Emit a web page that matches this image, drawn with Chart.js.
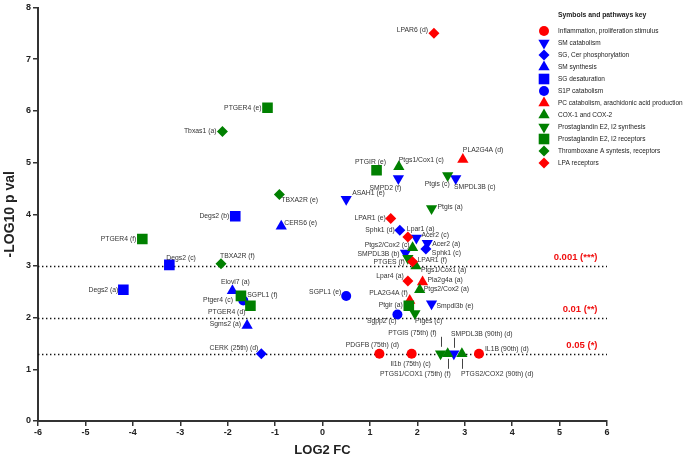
<!DOCTYPE html>
<html>
<head>
<meta charset="utf-8">
<script src="https://cdn.jsdelivr.net/npm/chart.js@4.4.0/dist/chart.umd.min.js"></script>
<style>
  html, body { margin: 0; padding: 0; background: #fff; }
  canvas { display: block; }
</style>
</head>
<body>
<canvas id="volcano" width="685" height="461" style="width:685px;height:461px"></canvas>
<script>
/* ── Data: one block per pathway (gene label, LOG2 FC, -LOG10 p) ───────── */
var inflamNames = ['PDGFB (75th) (d)', 'Il1b (75th) (c)', 'IL1B (90th) (d)'];
var inflamFC    = [1.2, 1.88, 3.3];
var inflamP     = [1.3, 1.3, 1.3];

var smCatNames = ['SMPD2 (f)', 'SMPDL3B (c)', 'ASAH1 (e)', 'Acer2 (c)', 'Acer2 (a)', 'SMPDL3B (b)', 'Smpdl3b (e)', 'SMPDL3B (90th) (d)'];
var smCatFC    = [1.6, 2.81, 0.5, 1.98, 2.21, 1.75, 2.3, 2.77];
var smCatP     = [4.69, 4.69, 4.29, 3.54, 3.44, 3.25, 2.27, 1.3];

var sgPhosNames = ['Sphk1 (d)', 'Sphk1 (c)', 'CERK (25th) (d)'];
var sgPhosFC    = [1.63, 2.18, -1.29];
var sgPhosP     = [3.69, 3.33, 1.3];

var smSynNames = ['CERS6 (e)', 'Elovl7 (a)', 'Sgms2 (a)'];
var smSynFC    = [-0.87, -1.9, -1.59];
var smSynP     = [3.77, 2.52, 1.85];

var sgDesNames = ['Degs2 (b)', 'Degs2 (c)', 'Degs2 (a)'];
var sgDesFC    = [-1.84, -3.23, -4.2];
var sgDesP     = [3.96, 3.02, 2.54];

var s1pNames = ['SGPL1 (e)', 'Sgpp2 (c)', 'SGPL1 (f)'];
var s1pFC    = [0.5, 1.58, -1.67];
var s1pP     = [2.42, 2.06, 2.33];

var pcNames = ['PLA2G4A (d)', 'Pla2g4a (a)', 'PLA2G4A (f)'];
var pcFC    = [2.96, 2.11, 1.84];
var pcP     = [5.06, 2.69, 2.33];

var coxNames = ['Ptgs1/Cox1 (c)', 'Ptgs2/Cox2 (c)', 'Ptgs1/Cox1 (a)', 'Ptgs2/Cox2 (a)', 'PTGS1/COX1 (75th) (f)', 'PTGS2/COX2 (90th) (d)'];
var coxFC    = [1.61, 1.9, 1.97, 2.05, 2.64, 2.94];
var coxP     = [4.92, 3.35, 3.0, 2.54, 1.3, 1.3];

var pgSynNames = ['Ptgis (c)', 'Ptgis (a)', 'PTGES (f)', 'Ptges (c)', 'PTGIS (75th) (f)'];
var pgSynFC    = [2.64, 2.3, 1.8, 1.95, 2.49];
var pgSynP     = [4.75, 4.11, 3.15, 2.08, 1.3];

var pgRecNames = ['PTGER4 (e)', 'PTGIR (e)', 'PTGER4 (f)', 'Ptger4 (c)', 'PTGER4 (d)', 'Ptgir (a)'];
var pgRecFC    = [-1.16, 1.14, -3.8, -1.72, -1.52, 1.82];
var pgRecP     = [6.06, 4.85, 3.52, 2.42, 2.23, 2.23];

var txNames = ['Tbxas1 (a)', 'TBXA2R (e)', 'TBXA2R (f)'];
var txFC    = [-2.11, -0.91, -2.14];
var txP     = [5.6, 4.38, 3.04];

var lpaNames = ['LPAR6 (d)', 'LPAR1 (e)', 'Lpar1 (a)', 'LPAR1 (f)', 'Lpar4 (a)'];
var lpaFC    = [2.35, 1.44, 1.8, 1.9, 1.8];
var lpaP     = [7.5, 3.92, 3.56, 3.08, 2.71];

var pathwayNames = [
  'Inflammation, proliferation stimulus', 'SM catabolism', 'SG, Cer phosphorylation',
  'SM synthesis', 'SG desaturation', 'S1P catabolism',
  'PC catabolism, arachidonic acid production', 'COX-1 and COX-2',
  'Prostaglandin E2, I2 synthesis', 'Prostaglandin E2, I2 receptors',
  'Thromboxane A syntesis, receptors', 'LPA receptors'
];

var thresholdY      = [3, 2, 1.301];
var thresholdLabels = ['0.001 (***)', '0.01 (**)', '0.05 (*)'];

var xTicks = [-6, -5, -4, -3, -2, -1, 0, 1, 2, 3, 4, 5, 6];
var yTicks = [0, 1, 2, 3, 4, 5, 6, 7, 8];

/* ── Styles ──────────────────────────────────────────────────────────── */
var RED = '#ff0000', BLUE = '#0000ff', GREEN = '#008000';
var FONT = '"Liberation Sans", Arial, sans-serif';

// [colour, pointStyle, rotation, radius]
var markerStyles = [
  [RED,   'circle',   0,   5],
  [BLUE,  'triangle', 180, 6.5],
  [BLUE,  'rectRot',  0,   5.5],
  [BLUE,  'triangle', 0,   6.5],
  [BLUE,  'rect',     0,   7.5],
  [BLUE,  'circle',   0,   5],
  [RED,   'triangle', 0,   6.5],
  [GREEN, 'triangle', 0,   6.5],
  [GREEN, 'triangle', 180, 6.5],
  [GREEN, 'rect',     0,   7.5],
  [GREEN, 'rectRot',  0,   5.5],
  [RED,   'rectRot',  0,   5.5]
];

// label placement: [side, dx, dy, leaderFrom, leaderTo]
// 'r' = text to the right, 'l' = text to the left, 'c' = centred
var labelLayout = {
  'PDGFB (75th) (d)': ['c', -7, -9],
  'Il1b (75th) (c)': ['c', -1, 10],
  'IL1B (90th) (d)': ['r', 6, -5],
  'SMPD2 (f)': ['c', -13, 10],
  'SMPDL3B (c)': ['c', 19, 9],
  'ASAH1 (e)': ['r', 6, -6],
  'Acer2 (c)': ['r', 5, -3],
  'Acer2 (a)': ['r', 5, 1],
  'SMPDL3B (b)': ['l', 6, 1],
  'Smpdl3b (e)': ['r', 5, 2],
  'SMPDL3B (90th) (d)': ['c', 28, -20, -16, -6],
  'Sphk1 (d)': ['l', 5, 0],
  'Sphk1 (c)': ['r', 6, 4],
  'CERK (25th) (d)': ['l', 3, -6],
  'CERS6 (e)': ['r', 3, -3],
  'Elovl7 (a)': ['c', 3, -9],
  'Sgms2 (a)': ['l', 6, -1],
  'Degs2 (b)': ['l', 6, 0],
  'Degs2 (c)': ['r', -3, -7],
  'Degs2 (a)': ['l', 5, 0],
  'SGPL1 (e)': ['l', 5, -4],
  'Sgpp2 (c)': ['l', 1, 7],
  'SGPL1 (f)': ['r', 4, -5],
  'PLA2G4A (d)': ['r', 0, -9],
  'Pla2g4a (a)': ['r', 5, -2],
  'PLA2G4A (f)': ['l', 2, -7],
  'Ptgs1/Cox1 (c)': ['r', 0, -7],
  'Ptgs2/Cox2 (c)': ['l', 3, -3],
  'Ptgs1/Cox1 (a)': ['r', 5, 4],
  'Ptgs2/Cox2 (a)': ['r', 4, -1],
  'PTGS1/COX1 (75th) (f)': ['l', -3, 20, 5, 15],
  'PTGS2/COX2 (90th) (d)': ['r', -1, 20, 5, 15],
  'Ptgis (c)': ['l', -2, 9],
  'Ptgis (a)': ['r', 6, -1],
  'PTGES (f)': ['l', 3, 4],
  'Ptges (c)': ['r', 0, 8],
  'PTGIS (75th) (f)': ['l', 4, -21, -17, -7],
  'PTGER4 (e)': ['l', 6, 0],
  'PTGIR (e)': ['c', -6, -8],
  'PTGER4 (f)': ['l', 6, 0],
  'Ptger4 (c)': ['l', 8, 4],
  'PTGER4 (d)': ['l', 5, 6],
  'Ptgir (a)': ['l', 6, -1],
  'Tbxas1 (a)': ['l', 6, 0],
  'TBXA2R (e)': ['r', 2, 6],
  'TBXA2R (f)': ['r', -1, -8],
  'LPAR6 (d)': ['l', 6, -3],
  'LPAR1 (e)': ['l', 5, 0],
  'Lpar1 (a)': ['r', -1, -8],
  'LPAR1 (f)': ['r', 5, -2],
  'Lpar4 (a)': ['l', 4, -5]
};

/* ── Build datasets ─────────────────────────────────────────────────── */
var groups = [
  [inflamNames, inflamFC, inflamP],
  [smCatNames, smCatFC, smCatP],
  [sgPhosNames, sgPhosFC, sgPhosP],
  [smSynNames, smSynFC, smSynP],
  [sgDesNames, sgDesFC, sgDesP],
  [s1pNames, s1pFC, s1pP],
  [pcNames, pcFC, pcP],
  [coxNames, coxFC, coxP],
  [pgSynNames, pgSynFC, pgSynP],
  [pgRecNames, pgRecFC, pgRecP],
  [txNames, txFC, txP],
  [lpaNames, lpaFC, lpaP]
];

var datasets = groups.map(function (g, gi) {
  var st = markerStyles[gi];
  return {
    label: pathwayNames[gi],
    data: g[0].map(function (n, i) { return { x: g[1][i], y: g[2][i], name: n }; }),
    backgroundColor: st[0],
    borderColor: st[0],
    borderWidth: 0,
    pointStyle: st[1],
    rotation: st[2],
    pointRadius: st[3],
    pointHoverRadius: st[3],
    order: -gi
  };
});

/* ── Plugins ───────────────────────────────────────────────────────── */
var thresholdPlugin = {
  id: 'thresholds',
  beforeDatasetsDraw: function (chart) {
    var ctx = chart.ctx, xs = chart.scales.x, ys = chart.scales.y;
    ctx.save();
    ctx.strokeStyle = '#111';
    ctx.lineWidth = 1.4;
    ctx.setLineDash([1.4, 2.6]);
    thresholdY.forEach(function (v, i) {
      var y = Math.round(ys.getPixelForValue(v)) + 0.5;
      ctx.beginPath();
      ctx.moveTo(xs.left, y);
      ctx.lineTo(xs.right, y);
      ctx.stroke();
      ctx.fillStyle = '#f01010';
      ctx.font = 'bold 9.5px ' + FONT;
      ctx.textAlign = 'right';
      ctx.textBaseline = 'middle';
      ctx.fillText(thresholdLabels[i], xs.getPixelForValue(5.8), y - 9);
    });
    ctx.restore();
  }
};

var labelPlugin = {
  id: 'pointLabels',
  afterDatasetsDraw: function (chart) {
    var ctx = chart.ctx;
    ctx.save();
    ctx.font = '6.8px ' + FONT;
    ctx.fillStyle = '#333';
    ctx.strokeStyle = '#444';
    ctx.lineWidth = 1;
    ctx.textBaseline = 'middle';
    chart.data.datasets.forEach(function (ds, di) {
      var meta = chart.getDatasetMeta(di);
      ds.data.forEach(function (d, i) {
        var pt = meta.data[i];
        var lay = labelLayout[d.name] || ['r', 6, 0];
        var x = pt.x, y = pt.y + lay[2];
        if (lay[0] === 'r') { ctx.textAlign = 'left'; x += lay[1]; }
        else if (lay[0] === 'l') { ctx.textAlign = 'right'; x -= lay[1]; }
        else { ctx.textAlign = 'center'; x += lay[1]; }
        ctx.fillText(d.name, x, y);
        if (lay.length > 3) {
          var lx = Math.round(pt.x) + 0.5;
          ctx.beginPath();
          ctx.moveTo(lx, pt.y + lay[3]);
          ctx.lineTo(lx, pt.y + lay[4]);
          ctx.stroke();
        }
      });
    });
    ctx.restore();
  }
};

var keyPlugin = {
  id: 'pathwayKey',
  afterDraw: function (chart) {
    var ctx = chart.ctx;
    var mx = 544, tx = 558, y0 = 31, step = 12;
    ctx.save();
    ctx.fillStyle = '#222';
    ctx.font = 'bold 6.8px ' + FONT;
    ctx.textAlign = 'left';
    ctx.textBaseline = 'middle';
    ctx.fillText('Symbols and pathways key', tx, 15);
    ctx.font = '6.5px ' + FONT;
    pathwayNames.forEach(function (name, i) {
      var st = markerStyles[i];
      var y = y0 + i * step;
      ctx.fillStyle = st[0];
      ctx.strokeStyle = st[0];
      ctx.lineWidth = 0;
      Chart.helpers.drawPoint(ctx, { pointStyle: st[1], rotation: st[2], radius: st[3], borderWidth: 0 }, mx, y);
      ctx.fillStyle = '#222';
      ctx.fillText(name, tx, y);
    });
    ctx.restore();
  }
};

/* ── Chart ─────────────────────────────────────────────────────────── */
var tickFont = { family: FONT, size: 9, weight: 'bold' };

new Chart(document.getElementById('volcano'), {
  type: 'scatter',
  data: { datasets: datasets },
  options: {
    responsive: false,
    animation: false,
    devicePixelRatio: 1,
    events: [],
    layout: { padding: { top: 4, right: 78, left: 0, bottom: 0 } },
    plugins: { legend: { display: false }, tooltip: { enabled: false } },
    scales: {
      x: {
        type: 'linear', min: -6, max: 6,
        afterFit: function (s) { s.height = 40; },
        afterBuildTicks: function (s) { s.ticks = xTicks.map(function (v) { return { value: v }; }); },
        border: { color: '#333', width: 2 },
        grid: { display: true, drawOnChartArea: false, drawTicks: true, tickLength: 5, color: '#333', lineWidth: 1.5 },
        ticks: { color: '#222', font: tickFont, padding: 1, maxRotation: 0 },
        title: { display: true, text: 'LOG2 FC', color: '#222', font: { family: FONT, size: 13, weight: 'bold' }, padding: { top: 2, bottom: 3 } }
      },
      y: {
        type: 'linear', min: 0, max: 8,
        afterFit: function (s) { s.width = 38; },
        afterBuildTicks: function (s) { s.ticks = yTicks.map(function (v) { return { value: v }; }); },
        border: { color: '#333', width: 2 },
        grid: { display: true, drawOnChartArea: false, drawTicks: true, tickLength: 5, color: '#333', lineWidth: 1.5 },
        ticks: { color: '#222', font: tickFont, padding: 2 },
        title: { display: true, text: '-LOG10 p val', color: '#222', font: { family: FONT, size: 14, weight: 'bold' }, padding: { top: 2, bottom: 2 } }
      }
    }
  },
  plugins: [thresholdPlugin, labelPlugin, keyPlugin]
});
</script>
</body>
</html>
